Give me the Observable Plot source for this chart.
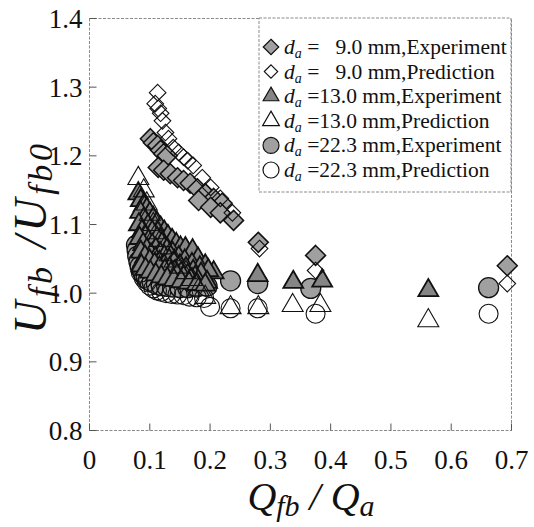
<!DOCTYPE html>
<html><head><meta charset="utf-8">
<script src="https://cdn.jsdelivr.net/npm/d3@7"></script>
<script src="https://cdn.jsdelivr.net/npm/@observablehq/plot@0.6"></script>
<style>
body{margin:0;background:#fff}
svg text{font-family:"Liberation Serif","Times New Roman",serif !important}
</style>
</head><body><div id="chart"></div>
<script>
// ---- data ----
const xTicks = [0, 0.1, 0.2, 0.3, 0.4, 0.5, 0.6, 0.7];
const yTicks = [0.8, 0.9, 1.0, 1.1, 1.2, 1.3, 1.4];
const xTickLabels = ["0", "0.1", "0.2", "0.3", "0.4", "0.5", "0.6", "0.7"];
const yTickLabels = ["0.8", "0.9", "1.0", "1.1", "1.2", "1.3", "1.4"];
const seriesNames = ["9.0", "9.0", "13.0", "13.0", "22.3", "22.3"];
const seriesKinds = ["Experiment", "Prediction", "Experiment", "Prediction", "Experiment", "Prediction"];

// d_a = 9.0 mm, Experiment (filled diamonds)
const exp9X = [0.101,0.106,0.113,0.118,0.123,0.129,0.114,0.123,0.134,0.146,0.156,0.167,0.179,0.192,0.206,0.220,0.181,0.201,0.217,0.239,0.280,0.375,0.693];
const exp9Y = [1.225,1.219,1.215,1.208,1.203,1.200,1.183,1.179,1.174,1.168,1.164,1.160,1.152,1.145,1.138,1.131,1.135,1.125,1.117,1.106,1.074,1.055,1.040];
// d_a = 9.0 mm, Prediction (open diamonds)
const pred9X = [0.113,0.109,0.114,0.118,0.121,0.126,0.131,0.139,0.148,0.156,0.163,0.172,0.187,0.201,0.217,0.237,0.282,0.375,0.693];
const pred9Y = [1.292,1.276,1.269,1.262,1.251,1.234,1.225,1.212,1.205,1.198,1.193,1.186,1.168,1.154,1.138,1.117,1.065,1.033,1.014];
// d_a = 13.0 mm, Experiment (filled triangles)
const exp13X = [0.081,0.085,0.090,0.095,0.100,0.106,0.112,0.118,0.124,0.130,0.137,0.144,0.151,0.159,0.171,0.180,0.192,0.206,
                0.084,0.090,0.097,0.104,0.112,0.120,0.129,0.138,0.148,0.158,0.170,0.183,0.197,
                0.082,0.087,0.092,0.098,0.104,0.110,0.117,0.124,0.132,0.140,0.150,0.160,0.172,0.185,
                0.083,0.089,0.095,0.102,0.109,0.116,0.124,0.133,0.142,0.152,0.163,0.175,
                0.085,0.092,0.100,0.108,0.116,0.125,0.135,0.145,0.156,0.168,0.180,0.195,
                0.086,0.093,0.101,0.110,0.119,0.129,0.140,0.152,0.165,0.178,0.192,
                0.279,0.338,0.386,0.562];
const exp13Y = [1.145,1.135,1.128,1.122,1.116,1.109,1.102,1.095,1.089,1.083,1.077,1.071,1.066,1.065,1.062,1.050,1.040,1.030,
                1.118,1.108,1.098,1.089,1.080,1.072,1.064,1.058,1.052,1.047,1.042,1.037,1.033,
                1.100,1.090,1.083,1.076,1.070,1.064,1.058,1.053,1.048,1.044,1.040,1.036,1.032,1.028,
                1.080,1.071,1.063,1.056,1.050,1.045,1.040,1.036,1.032,1.029,1.026,1.023,
                1.060,1.053,1.047,1.042,1.037,1.033,1.029,1.026,1.023,1.020,1.018,1.016,
                1.040,1.035,1.031,1.027,1.024,1.021,1.019,1.017,1.015,1.013,1.012,
                1.026,1.016,1.018,1.004];
// d_a = 13.0 mm, Prediction (open triangles)
const pred13X = [0.081,0.090,0.095,0.100,0.106,0.112,0.118,0.125,0.133,0.141,0.150,0.160,0.170,0.181,0.192,0.234,0.280,0.337,0.383,0.562];
const pred13Y = [1.167,1.149,1.130,1.115,1.100,1.088,1.077,1.066,1.056,1.047,1.038,1.030,1.020,1.005,0.994,0.979,0.979,0.982,0.982,0.960];
// d_a = 22.3 mm, Experiment (filled circles)
const exp22X = [0.078,0.079,0.080,0.082,0.084,0.087,0.090,0.094,0.098,0.104,0.111,0.119,0.128,0.138,0.150,0.163,0.178,0.195,0.234,0.279,0.367,0.662];
const exp22Y = [1.070,1.062,1.054,1.046,1.039,1.033,1.028,1.023,1.019,1.016,1.013,1.011,1.010,1.009,1.008,1.008,1.009,1.010,1.018,1.014,1.007,1.008];
// d_a = 22.3 mm, Prediction (open circles)
const pred22X = [0.085,0.090,0.095,0.100,0.106,0.112,0.119,0.127,0.136,0.146,0.156,0.166,0.178,0.190,0.200,0.234,0.279,0.375,0.662];
const pred22Y = [1.030,1.022,1.016,1.011,1.007,1.004,1.002,1.000,0.999,0.998,0.997,0.995,0.994,0.993,0.980,0.978,0.978,0.970,0.970];

// ---- styles ----
const serif = "Liberation Serif";
const grayFill = "#a0a0a0";
const triFill = "#858585";
const darkStroke = "#111";
const pts = (xs, ys) => xs.map((x, i) => ({x, y: ys[i]}));

const tickUp = {draw(ctx) { ctx.moveTo(0, 0); ctx.lineTo(0, -7); }};
const tickRight = {draw(ctx) { ctx.moveTo(0, 0); ctx.lineTo(7, 0); }};

const chart = Plot.plot({
  width: 534, height: 527,
  marginLeft: 89, marginRight: 23, marginTop: 18, marginBottom: 97,
  style: {fontFamily: serif, background: "#fff", color: "#111"},
  x: {domain: [0, 0.7], axis: null},
  y: {domain: [0.8, 1.4], axis: null},
  marks: [
    Plot.frame({stroke: "#8a8a8a", strokeDasharray: "3,1.5", strokeWidth: 1}),
    Plot.dot(xTicks, {x: d => d, y: () => yTicks[0], symbol: tickUp, fill: "none", stroke: "#555", strokeWidth: 1}),
    Plot.dot(yTicks, {x: () => xTicks[0], y: d => d, symbol: tickRight, fill: "none", stroke: "#555", strokeWidth: 1}),
    Plot.text(xTicks, {x: d => d, y: () => yTicks[0], text: (d, i) => xTickLabels[i], dy: 30, fontSize: 27, fontFamily: serif, fill: "#111", textAnchor: "middle"}),
    Plot.text(yTicks, {x: () => xTicks[0], y: d => d, text: (d, i) => yTickLabels[i], dx: -7, dy: 1, fontSize: 27, fontFamily: serif, fill: "#111", textAnchor: "end"}),
    // 22.3 mm
    Plot.dot(pts(exp22X, exp22Y), {x: "x", y: "y", r: 10, fill: grayFill, stroke: darkStroke, strokeWidth: 1.3}),
    Plot.dot(pts(pred22X, pred22Y), {x: "x", y: "y", r: 9.5, fill: "none", stroke: darkStroke, strokeWidth: 1.1}),
    // 13.0 mm
    Plot.dot(pts(exp13X, exp13Y), {x: "x", y: "y", symbol: "triangle2", r: 9.5, fill: triFill, stroke: darkStroke, strokeWidth: 1.8}),
    Plot.dot(pts(pred13X, pred13Y), {x: "x", y: "y", symbol: "triangle2", r: 10, fill: "none", stroke: darkStroke, strokeWidth: 1.1}),
    // 9.0 mm
    Plot.dot(pts(exp9X, exp9Y), {x: "x", y: "y", symbol: "diamond2", r: 9, fill: grayFill, stroke: darkStroke, strokeWidth: 1.5}),
    Plot.dot(pts(pred9X, pred9Y), {x: "x", y: "y", symbol: "diamond2", r: 7.5, fill: "none", stroke: darkStroke, strokeWidth: 1.1})
  ]
});
document.getElementById("chart").append(chart);

const svg = d3.select(chart);
const sx = chart.scale("x"), sy = chart.scale("y");
const pLeft = sx.apply(xTicks[0]), pRight = sx.apply(xTicks[xTicks.length - 1]);
const pTop = sy.apply(yTicks[yTicks.length - 1]), pBottom = sy.apply(yTicks[0]);

// ---- legend ----
const lg = svg.append("g").attr("text-anchor", "start");
const lgLeft = 259, lgBottom = 192;
lg.append("rect").attr("x", lgLeft).attr("y", pTop).attr("width", pRight - lgLeft).attr("height", lgBottom - pTop)
  .attr("fill", "#fff").attr("stroke", "#8a8a8a").attr("stroke-dasharray", "3,1.5");
const symDefs = [
  {t: d3.symbolDiamond2, r: 7, fill: grayFill},
  {t: d3.symbolDiamond2, r: 6, fill: "none"},
  {t: d3.symbolTriangle2, r: 7.5, fill: triFill},
  {t: d3.symbolTriangle2, r: 8, fill: "none"},
  {t: d3.symbolCircle, r: 8, fill: grayFill},
  {t: d3.symbolCircle, r: 8, fill: "none"}
];
seriesNames.forEach((nm, i) => {
  const cy = 47 + i * 24.6;
  const s = symDefs[i];
  lg.append("path").attr("transform", `translate(271,${cy})`)
    .attr("d", d3.symbol(s.t, Math.PI * s.r * s.r)())
    .attr("fill", s.fill).attr("stroke", darkStroke).attr("stroke-width", 1.2);
  const tx = lg.append("text").attr("x", 284).attr("y", cy + 7).attr("font-size", 21.5)
    .attr("text-anchor", "start").style("white-space", "pre").attr("fill", "#111");
  tx.append("tspan").attr("font-style", "italic").text("d");
  tx.append("tspan").attr("font-style", "italic").attr("font-size", 14).attr("dy", 4).text("a");
  tx.append("tspan").attr("dy", -4).text(" =" + (nm.length === 3 ? "\u2007\u00a0" : "") + nm + " mm," + seriesKinds[i]);
});

// ---- axis titles ----
const xt = svg.append("text").attr("x", 311).attr("y", 510).attr("text-anchor", "middle")
  .attr("font-size", 40).attr("font-style", "italic").attr("fill", "#111").style("white-space", "pre");
xt.append("tspan").text("Q");
xt.append("tspan").attr("font-size", 30).attr("dy", 6).text("fb");
xt.append("tspan").attr("dy", -6).text(" / Q");
xt.append("tspan").attr("font-size", 30).attr("dy", 6).text("a");

const yt = svg.append("text").attr("transform", `translate(46,334) rotate(-90)`).attr("text-anchor", "start")
  .attr("font-size", 46).attr("font-style", "italic").attr("fill", "#111")
  .attr("textLength", 190).attr("lengthAdjust", "spacing").style("white-space", "pre");
yt.append("tspan").text("U");
yt.append("tspan").attr("font-size", 34).attr("dy", 6).text("fb");
yt.append("tspan").attr("dy", -6).text(" /U");
yt.append("tspan").attr("font-size", 34).attr("dy", 6).text("fb0");
</script>
</body></html>
